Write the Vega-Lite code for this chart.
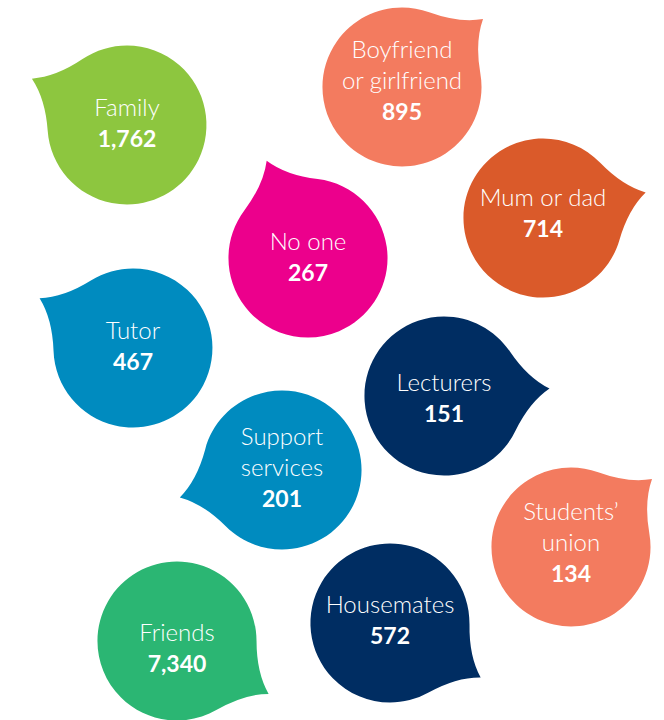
{
  "$schema": "https://vega.github.io/schema/vega-lite/v6.json",
  "width": 664,
  "height": 720,
  "autosize": "none",
  "padding": 0,
  "background": "white",
  "config": {"view": {"stroke": null}},
  "data": {
    "values": [
      {"label": "Family", "upper": "", "lower": "Family", "value": 1762, "cx": 127, "cy": 125, "tail": 296, "ny": 140},
      {"label": "Boyfriend or girlfriend", "upper": "Boyfriend", "lower": "or girlfriend", "value": 895, "cx": 402, "cy": 87, "tail": 50, "ny": 113},
      {"label": "Mum or dad", "upper": "", "lower": "Mum or dad", "value": 714, "cx": 543, "cy": 218, "tail": 76, "ny": 230},
      {"label": "No one", "upper": "", "lower": "No one", "value": 267, "cx": 308, "cy": 258, "tail": 337, "ny": 274},
      {"label": "Tutor", "upper": "", "lower": "Tutor", "value": 467, "cx": 133, "cy": 348, "tail": 298, "ny": 363},
      {"label": "Lecturers", "upper": "", "lower": "Lecturers", "value": 151, "cx": 444, "cy": 396, "tail": 86, "ny": 415},
      {"label": "Support services", "upper": "Support", "lower": "services", "value": 201, "cx": 282, "cy": 470, "tail": 255, "ny": 500},
      {"label": "Students’ union", "upper": "Students’", "lower": "union", "value": 134, "cx": 571, "cy": 547, "tail": 50, "ny": 575},
      {"label": "Housemates", "upper": "", "lower": "Housemates", "value": 572, "cx": 390, "cy": 623, "tail": 121, "ny": 637},
      {"label": "Friends", "upper": "", "lower": "Friends", "value": 7340, "cx": 177, "cy": 641, "tail": 120, "ny": 665}
    ]
  },
  "encoding": {
    "x": {"field": "cx", "type": "quantitative", "scale": {"domain": [0, 664], "nice": false, "zero": false}, "axis": null}
  },
  "layer": [
    {
      "mark": {
        "type": "point",
        "shape": "M -0.5 -0.866 Q -0.154 -1.066 0 -1.33 Q 0.154 -1.066 0.5 -0.866 A 1 1 0 1 1 -0.5 -0.866 Z",
        "filled": true,
        "opacity": 1,
        "size": 25300,
        "strokeWidth": 0
      },
      "encoding": {
        "y": {"field": "cy", "type": "quantitative", "scale": {"domain": [0, 720], "reverse": true, "nice": false, "zero": false}, "axis": null},
        "angle": {"field": "tail", "type": "quantitative", "scale": null},
        "color": {
          "field": "label",
          "type": "nominal",
          "legend": null,
          "scale": {
            "domain": ["Family", "Boyfriend or girlfriend", "Mum or dad", "No one", "Tutor", "Lecturers", "Support services", "Students’ union", "Housemates", "Friends"],
            "range": ["#8DC63F", "#F37B5F", "#DA5A2A", "#EC008C", "#008BBF", "#002D62", "#008BBF", "#F37B5F", "#002D62", "#2BB673"]
          }
        }
      }
    },
    {
      "mark": {"type": "text", "font": "Lato", "fontWeight": 300, "fontSize": 24, "color": "white", "align": "center", "baseline": "middle", "dy": -62},
      "encoding": {
        "y": {"field": "ny", "type": "quantitative", "scale": {"domain": [0, 720], "reverse": true, "nice": false, "zero": false}, "axis": null},
        "text": {"field": "upper", "type": "nominal"}
      }
    },
    {
      "mark": {"type": "text", "font": "Lato", "fontWeight": 300, "fontSize": 24, "color": "white", "align": "center", "baseline": "middle", "dy": -31},
      "encoding": {
        "y": {"field": "ny", "type": "quantitative", "scale": {"domain": [0, 720], "reverse": true, "nice": false, "zero": false}, "axis": null},
        "text": {"field": "lower", "type": "nominal"}
      }
    },
    {
      "mark": {"type": "text", "font": "Lato", "fontWeight": "bold", "fontSize": 23, "color": "white", "align": "center", "baseline": "middle"},
      "encoding": {
        "y": {"field": "ny", "type": "quantitative", "scale": {"domain": [0, 720], "reverse": true, "nice": false, "zero": false}, "axis": null},
        "text": {"field": "value", "type": "quantitative", "format": ","}
      }
    }
  ]
}
